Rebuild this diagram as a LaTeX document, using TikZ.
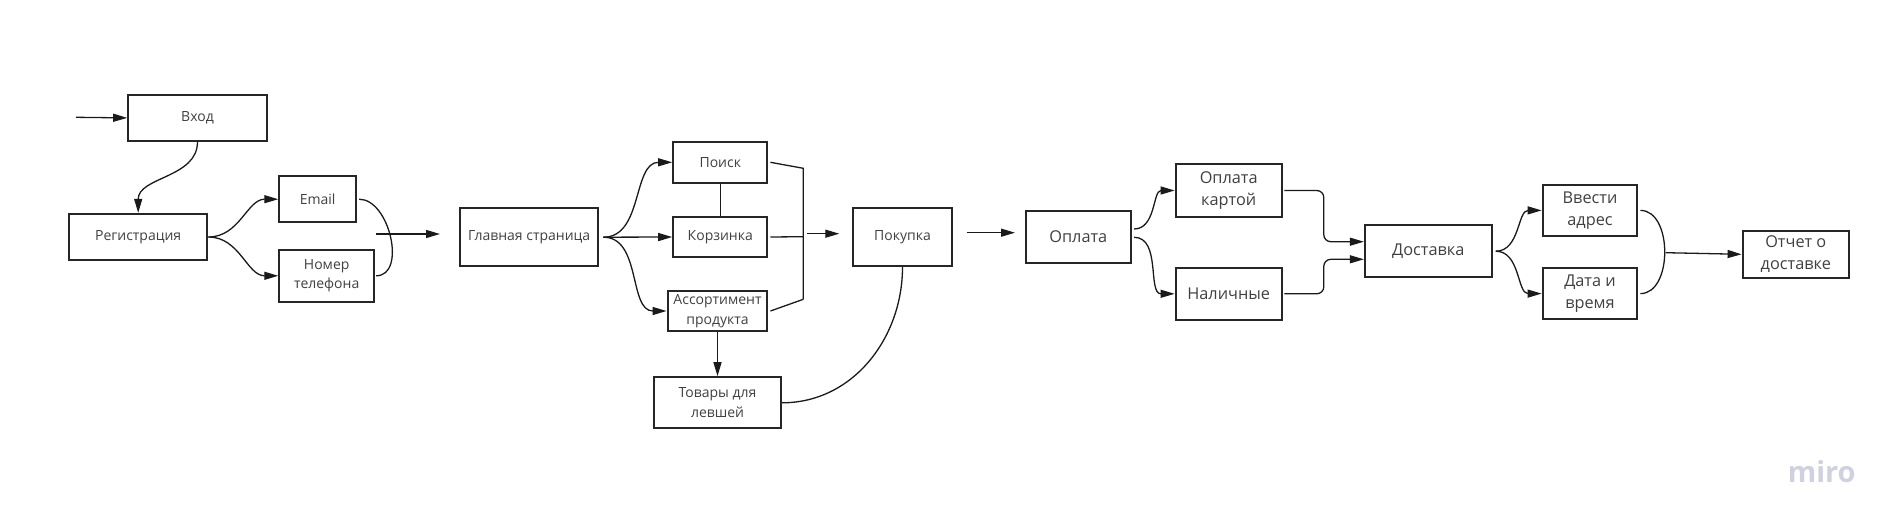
\documentclass[tikz,border=0pt]{standalone}
\usepackage{fontspec}
\setmainfont{Open Sans}
\usetikzlibrary{arrows.meta,calc}
\definecolor{boxc}{HTML}{262626}
\definecolor{txt}{HTML}{404040}
\definecolor{linec}{HTML}{1A1A1A}
\definecolor{miroc}{HTML}{D0D0DE}
\tikzset{
  box/.style={draw=boxc, line width=2.2pt, inner sep=0pt, align=center, text=txt},
  sm/.style={font=\fontsize{14}{19.5}\selectfont},
  lg/.style={font=\fontsize{16.3}{21.7}\selectfont},
  conn/.style={draw=linec, line width=1.3pt},
  arr/.style={conn, -{Triangle[length=14pt,width=8pt]}},
}
\begin{document}
\begin{tikzpicture}[x=1pt,y=1pt]
\useasboundingbox (0,0) rectangle (1895,-527);
% nodes
\node[box,sm,minimum width=138.4pt,minimum height=45.7pt] (vhod) at (197.5,-117.9) {Вход};
\node[box,sm,minimum width=138.3pt,minimum height=46pt] (reg) at (138.2,-237) {Регистрация};
\node[box,sm,minimum width=76.7pt,minimum height=46.3pt] (email) at (317.7,-199.2) {Email};
\node[box,sm,minimum width=94.7pt,minimum height=51.7pt] (phone) at (326.7,-275.8) {Номер\\телефона};
\node[box,sm,minimum width=138.3pt,minimum height=57.7pt] (main) at (529.2,-237.2) {Главная страница};
\node[box,sm,minimum width=94pt,minimum height=40.7pt] (poisk) at (720.3,-162.3) {Поиск};
\node[box,sm,minimum width=94pt,minimum height=39.3pt] (korz) at (720.3,-237) {Корзинка};
\node[box,sm,minimum width=99.7pt,minimum height=40pt] (assort) at (717.5,-311) {Ассортимент\\продукта};
\node[box,sm,minimum width=127pt,minimum height=51pt] (tovary) at (717.5,-402.8) {Товары для\\левшей};
\node[box,sm,minimum width=99.6pt,minimum height=58pt] (pokupka) at (902.5,-237) {Покупка};
\node[box,lg,minimum width=105.3pt,minimum height=51.7pt] (oplata) at (1078.3,-236.8) {Оплата};
\node[box,lg,minimum width=106pt,minimum height=52.4pt] (karta) at (1228.7,-190.5) {Оплата\\картой};
\node[box,lg,minimum width=106pt,minimum height=52.3pt] (nal) at (1228.7,-293.8) {Наличные};
\node[box,lg,minimum width=126.7pt,minimum height=52.3pt] (dost) at (1428.3,-251.2) {Доставка};
\node[box,lg,minimum width=94.6pt,minimum height=50.7pt] (adres) at (1590,-210.4) {Ввести\\адрес};
\node[box,lg,minimum width=94.6pt,minimum height=50.7pt] (data) at (1590,-293.6) {Дата и\\время};
\node[box,lg,minimum width=106.3pt,minimum height=46.7pt] (otchet) at (1795.8,-254.3) {Отчет о\\доставке};
\node[font=\fontsize{29}{29}\selectfont\bfseries, text=miroc, anchor=base, inner sep=0pt] (miro) at (1821.7,-482.7) {miro};
% free ends
\coordinate (in0) at (76,-117.3);
\coordinate (a1s) at (376,-234);
\coordinate (a1e) at (440,-234);
\coordinate (j1) at (803.3,-168.3);
\coordinate (j2) at (803.3,-236.7);
\coordinate (j3) at (803.3,-299.3);
\coordinate (a2s) at (807.3,-233.7);
\coordinate (a2e) at (839.3,-233.7);
\coordinate (a3s) at (966.7,-232.7);
\coordinate (a3e) at (1015,-232.7);
\coordinate (a4s) at (1665.7,-252.7);
% connectors
\draw[arr] (in0) -- (vhod.west);
\draw[arr] (vhod.south) to[out=-90,in=90] (reg.north);
\draw[arr] (reg.east) to[out=0,in=180] (email.west);
\draw[arr] (reg.east) to[out=0,in=180] (phone.west);
\draw[conn] ([xshift=2pt]email.east) to[out=0,in=0] ([xshift=1pt]phone.east);
\draw[arr] (a1s) -- (a1e);
\draw[arr] ([xshift=4pt]main.east) to[out=0,in=180] (poisk.west);
\draw[arr] ([xshift=4pt]main.east) -- (korz.west);
\draw[arr] ([xshift=4pt]main.east) to[out=0,in=180] (assort.west);
\draw[conn] (poisk.south) -- (korz.north);
\draw[conn] ([xshift=2pt]poisk.east) -- (j1) -- (j3);
\draw[conn] ([xshift=2pt]korz.east) -- (j2);
\draw[conn] ([xshift=2pt]assort.east) -- (j3);
\draw[arr] (a2s) -- (a2e);
\draw[arr] (assort.south) -- (tovary.north);
\draw[conn] (tovary.east) to[out=0,in=-90] (pokupka.south);
\draw[arr] (a3s) -- (a3e);
\draw[arr] ([xshift=2pt,yshift=7.8pt]oplata.east) to[out=0,in=180] (karta.west);
\draw[arr] ([xshift=2pt,yshift=-0.5pt]oplata.east) to[out=0,in=180] (nal.west);
\draw[arr, rounded corners=7pt] ([xshift=1.6pt]karta.east) -- ++(39.4,0) |- ([yshift=9.5pt]dost.west);
\draw[arr, rounded corners=7pt] ([xshift=1.6pt]nal.east) -- ++(39.4,0) |- ([yshift=-8.1pt]dost.west);
\draw[arr] ([xshift=3pt]dost.east) to[out=0,in=180] (adres.west);
\draw[arr] ([xshift=3pt]dost.east) to[out=0,in=180] (data.west);
\draw[conn] ([xshift=2pt]adres.east) to[out=0,in=0] ([xshift=2pt]data.east);
\draw[arr] (a4s) -- (otchet.west);
\end{tikzpicture}
\end{document}
